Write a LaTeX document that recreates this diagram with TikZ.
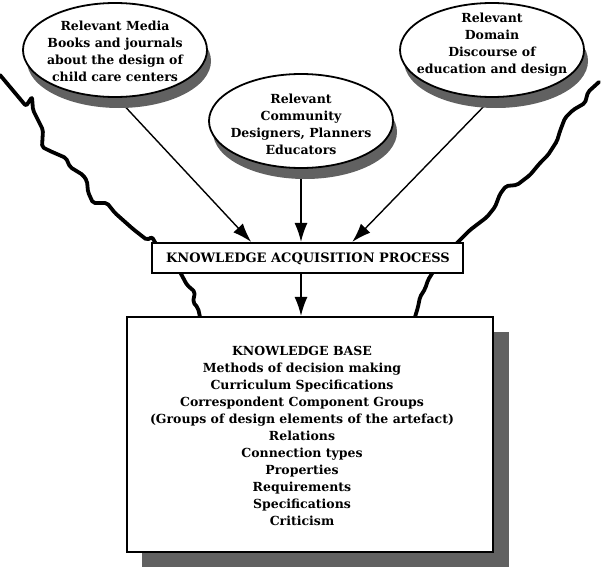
\documentclass[tikz,border=0pt]{standalone}
\usepackage{fontspec}
\setmainfont{DejaVu Serif}
\usetikzlibrary{shapes.geometric,arrows.meta,calc,backgrounds}
\begin{document}
\begin{tikzpicture}[x=1pt,y=-1pt,
  ell/.style={ellipse,draw,line width=1.8pt,fill=white,minimum width=184pt,minimum height=94pt,inner sep=0pt},
  ellsh/.style={ellipse,fill=black!62,minimum width=184pt,minimum height=94pt,inner sep=0pt},
  lbl/.style={align=center,inner sep=0pt,font=\fontsize{12.5}{17}\selectfont\bfseries},
  box/.style={draw,line width=2.2pt,fill=white,inner sep=0pt},
  arr/.style={line width=1.4pt,-{Latex[length=19pt,width=13pt]}},
  wave/.style={line width=3.8pt,line join=round,line cap=round,rounded corners=2pt}]
\useasboundingbox (0,0) rectangle (601,575);
% wavy borders
\draw[wave] (0,75) -- (26,106) -- (32,97) -- (33,110) -- (43,130) -- (42,147) -- (50,151) -- (66,158) -- (70,167) -- (83,175) -- (87,181) -- (88,192) -- (93,203) -- (107,203) -- (115,213) -- (133,229) -- (147,240) -- (152,237) -- (156,244);
\draw[wave] (180,272) -- (187,285) -- (195,292) -- (193,302) -- (198,308) -- (200,317);
\draw[wave] (599,82) -- (588,92) -- (585,103) -- (573,110) -- (565,118) -- (560,131) -- (557,141) -- (548,155) -- (540,163) -- (530,175) -- (517,185) -- (506,186) -- (500,194) -- (495,207) -- (487,217) -- (470,230) -- (456,244);
\draw[wave] (433,272) -- (428,280) -- (425,289) -- (420,297) -- (418,307) -- (415,317);
% shadows
\node[ellsh] (mediash) at (119,61) {};
\node[ellsh] (commsh) at (305,132) {};
\node[ellsh] (domsh) at (496,61) {};
\fill[black!62] (142,332) rectangle (509,567);
% ellipses
\node[ell] (media) at (115,50) {};
\node[ell] (comm) at (301,121) {};
\node[ell] (dom) at (492,50) {};
\node[lbl] (medialbl) at (115,51.5) {Relevant Media\\Books and journals\\about the design of\\child care centers};
\node[lbl] (commlbl) at (301,124) {Relevant\\Community\\Designers, Planners\\Educators};
\node[lbl] (domlbl) at (492,45) {Relevant\\Domain\\Discourse of\\education and design};
% boxes
\node[box,minimum width=311pt,minimum height=30pt] (kap) at (307.5,258) {};
\node[lbl,font=\fontsize{13}{15}\selectfont\bfseries] (kaplbl) at (308,259) {KNOWLEDGE ACQUISITION PROCESS};
\node[box,minimum width=366pt,minimum height=235pt] (kb) at (310,434.5) {};
\node[lbl] (kblbl) at (302,436) {KNOWLEDGE BASE\\Methods of decision making\\Curriculum Specifications\\Correspondent Component Groups\\(Groups of design elements of the artefact)\\Relations\\Connection types\\Properties\\Requirements\\Specifications\\Criticism};
% arrows
\begin{scope}[on background layer]
\draw[arr] (media.south) ++(2,0) -- ($(kap.north west)!0.32!(kap.north east)$);
\draw[arr] (comm.south) -- (comm.south |- kap.north);
\draw[arr] (dom.south) -- ($(kap.north west)!0.643!(kap.north east)$);
\end{scope}
\draw[arr] (kap.south -| comm.south) -- (kb.north -| comm.south);
\end{tikzpicture}
\end{document}
